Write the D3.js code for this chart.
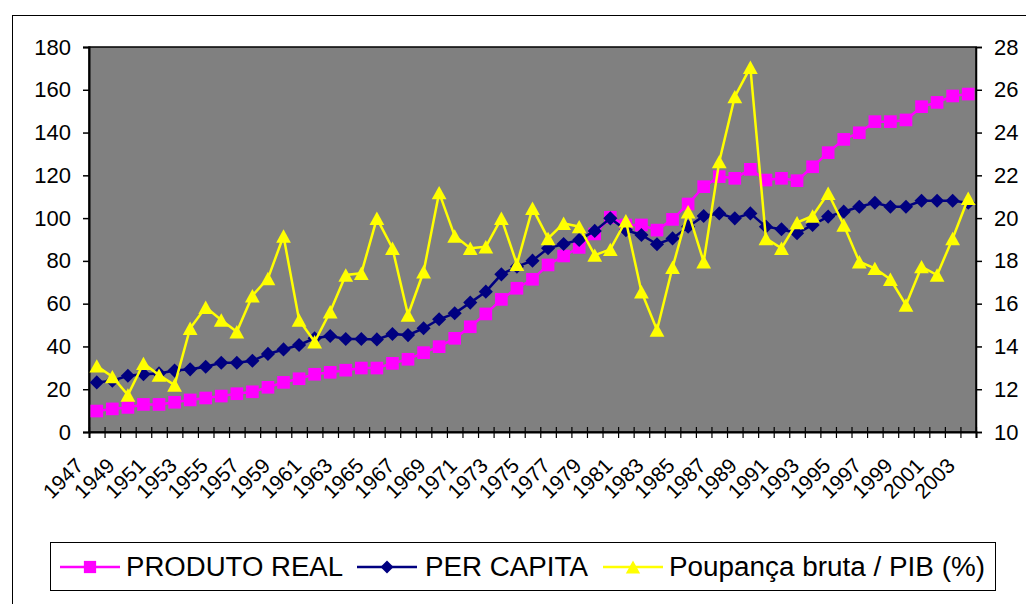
<!DOCTYPE html>
<html>
<head>
<meta charset="utf-8">
<script src="https://cdn.jsdelivr.net/npm/d3@7"></script>
<style>
  html, body { margin: 0; padding: 0; background: #fff; }
  svg { display: block; }
  text { font-family: "Liberation Sans", Arial, sans-serif; fill: #000; }
</style>
</head>
<body>
<svg id="chart" width="1026" height="604"></svg>
<script>
const years = d3.range(1947, 2004).map(String);

const produtoReal = [9.8,10.8,11.5,12.9,12.9,13.9,15.0,15.9,16.8,17.9,18.8,20.9,23.2,24.9,27.0,27.9,28.9,29.9,29.9,
  32.1,34.0,37.1,39.9,43.8,49.2,55.2,62.0,67.2,71.4,78.1,82.3,86.3,92.6,100.4,96.8,96.8,94.4,99.4,106.6,114.7,
  119.4,118.6,122.8,117.8,118.6,117.5,124.0,130.6,136.8,139.9,145.1,145.1,145.9,152.1,154.1,157.1,158.0];

const perCapita = [23.2,24.0,26.3,27.0,27.4,28.7,29.3,30.5,32.4,32.4,33.3,36.5,38.6,40.7,43.8,44.9,43.5,43.5,43.3,
  45.8,45.3,48.5,52.7,55.5,60.5,65.6,73.7,77.3,80.1,85.9,87.9,89.8,94.0,99.9,94.4,92.1,87.8,90.5,96.0,101.0,
  102.2,99.9,102.2,96.0,94.8,92.9,96.8,100.7,103.0,105.3,107.2,105.3,105.3,108.1,108.1,108.1,107.2];

const poupanca = [13.09,12.59,11.73,13.21,12.66,12.2,14.85,15.83,15.24,14.69,16.37,17.18,19.16,15.24,14.22,15.62,
  17.34,17.42,19.99,18.59,15.47,17.49,21.19,19.16,18.59,18.66,19.99,17.84,20.46,19.05,19.76,19.6,18.27,18.54,
  19.88,16.56,14.77,17.70,20.30,17.96,22.64,25.68,27.05,19.05,18.59,19.79,20.10,21.16,19.68,17.96,17.65,17.14,
  15.94,17.73,17.34,19.05,20.93];

const leftTicks = [0,20,40,60,80,100,120,140,160,180];
const rightTicks = [10,12,14,16,18,20,22,24,26,28];
const yearLabels = years.filter((d, i) => i % 2 === 0);
const seriesNames = ["PRODUTO REAL", "PER CAPITA", "Poupança bruta / PIB (%)"];

const svg = d3.select("#chart");
const L = 89, R = 976, T = 47, B = 432;

// outer chart border
svg.append("rect").attr("x", 12.5).attr("y", 15.5).attr("width", 1030).attr("height", 620)
  .attr("fill", "none").attr("stroke", "#000").attr("stroke-width", 1);

const x = d3.scaleBand().domain(years).range([L, R]).padding(0);
const xIdx = d3.scaleLinear().domain([0, years.length]).range([L, R]);
const yL = d3.scaleLinear().domain([0, 180]).range([B, T]);
const yR = d3.scaleLinear().domain([10, 28]).range([B, T]);
const cx = d => x(d) + x.bandwidth() / 2;

// plot background
svg.append("rect").attr("x", L).attr("y", T).attr("width", R - L).attr("height", B - T)
  .attr("fill", "#808080").attr("stroke", "#000").attr("stroke-width", 1.5);

// left axis
const gL = svg.append("g").attr("transform", `translate(${L},0)`)
  .call(d3.axisLeft(yL).tickValues(leftTicks).tickSize(6).tickPadding(12));
gL.select(".domain").attr("stroke", "#000").attr("stroke-width", 2);
gL.selectAll(".tick line").attr("stroke", "#000").attr("stroke-width", 1.5);
gL.selectAll(".tick text").attr("font-size", 22).attr("font-family", "Liberation Sans, Arial").attr("fill", "#000");

// right axis
const gR = svg.append("g").attr("transform", `translate(${R},0)`)
  .call(d3.axisRight(yR).tickValues(rightTicks).tickSize(6).tickPadding(12));
gR.select(".domain").attr("stroke", "#000").attr("stroke-width", 1.5);
gR.selectAll(".tick line").attr("stroke", "#000").attr("stroke-width", 1.5);
gR.selectAll(".tick text").attr("font-size", 22).attr("font-family", "Liberation Sans, Arial").attr("fill", "#000");

// bottom axis: boundary ticks crossing the axis
const gB = svg.append("g").attr("transform", `translate(0,${B})`)
  .call(d3.axisBottom(xIdx).tickValues(d3.range(years.length + 1)).tickSize(6).tickFormat(""));
gB.select(".domain").attr("stroke", "#000").attr("stroke-width", 2);
gB.selectAll(".tick line").attr("y1", -5).attr("y2", 6).attr("stroke", "#000").attr("stroke-width", 1.2);

// year labels
svg.append("g").selectAll("text").data(yearLabels).join("text")
  .attr("transform", d => `translate(${cx(d) - 12},${B + 35}) rotate(-45)`)
  .attr("text-anchor", "end")
  .attr("font-size", 21)
  .text(d => d);

// series
const lineL = d3.line().x((d, i) => cx(years[i])).y(d => yL(d));
const lineR = d3.line().x((d, i) => cx(years[i])).y(d => yR(d));

function drawSeries(data, line, yScale, color, shape, size) {
  const g = svg.append("g");
  g.append("path").datum(data).attr("d", line).attr("fill", "none")
    .attr("stroke", color).attr("stroke-width", 2.5);
  g.selectAll("path.m").data(data).join("path").attr("class", "m")
    .attr("transform", (d, i) => `translate(${cx(years[i])},${yScale(d)})`)
    .attr("d", d3.symbol().type(shape).size(size))
    .attr("fill", color);
}

const triangle = {
  draw(ctx, size) {
    const s = Math.sqrt(size);
    ctx.moveTo(0, -s * 0.5);
    ctx.lineTo(s * 0.55, s * 0.5);
    ctx.lineTo(-s * 0.55, s * 0.5);
    ctx.closePath();
  }
};
const diamond = {
  draw(ctx, size) {
    const s = Math.sqrt(size) / 2;
    ctx.moveTo(0, -s);
    ctx.lineTo(s, 0);
    ctx.lineTo(0, s);
    ctx.lineTo(-s, 0);
    ctx.closePath();
  }
};

drawSeries(produtoReal, lineL, yL, "#FF00FF", d3.symbolSquare, 160);
drawSeries(perCapita, lineL, yL, "#000080", diamond, 200);
drawSeries(poupanca, lineR, yR, "#FFFF00", triangle, 180);

// legend
svg.append("rect").attr("x", 50.5).attr("y", 542.5).attr("width", 945).attr("height", 48)
  .attr("fill", "#fff").attr("stroke", "#000").attr("stroke-width", 1);

const legendItems = [
  { name: seriesNames[0], color: "#FF00FF", shape: d3.symbolSquare, size: 150, x1: 60, x2: 120, tx: 126, w: 217 },
  { name: seriesNames[1], color: "#000080", shape: diamond, size: 170, x1: 357, x2: 417, tx: 425, w: 163 },
  { name: seriesNames[2], color: "#FFFF00", shape: triangle, size: 170, x1: 603, x2: 663, tx: 669, w: 316 }
];
const lg = svg.append("g");
legendItems.forEach(it => {
  const ly = 567;
  lg.append("line").attr("x1", it.x1).attr("x2", it.x2).attr("y1", ly).attr("y2", ly)
    .attr("stroke", it.color).attr("stroke-width", 2.5);
  lg.append("path").attr("transform", `translate(${(it.x1 + it.x2) / 2},${ly})`)
    .attr("d", d3.symbol().type(it.shape).size(it.size)).attr("fill", it.color);
  lg.append("text").attr("x", it.tx).attr("y", 576).attr("font-size", 27)
    .attr("textLength", it.w).attr("lengthAdjust", "spacingAndGlyphs").text(it.name);
});
</script>
</body>
</html>
